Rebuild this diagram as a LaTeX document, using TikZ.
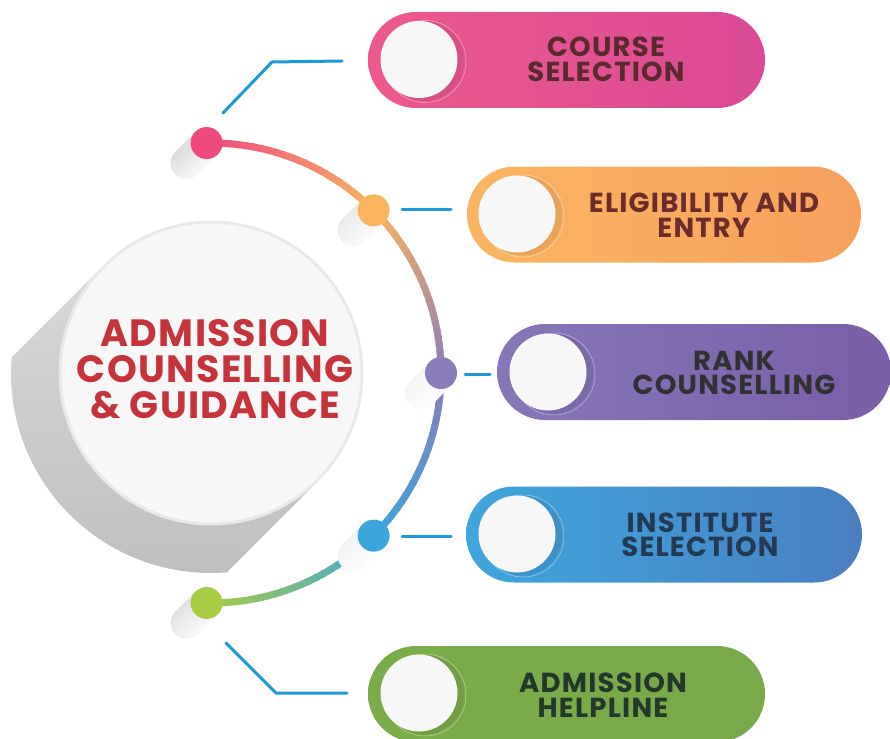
\documentclass[tikz,border=0pt]{standalone}
\usepackage{fontspec}
\setmainfont{Poppins}
\usetikzlibrary{shapes.misc}
\definecolor{cpinkL}{HTML}{EC5A8D}\definecolor{cpinkR}{HTML}{DA4995}
\definecolor{corL}{HTML}{FBB562}\definecolor{corR}{HTML}{F7A05E}
\definecolor{cpuL}{HTML}{8677B8}\definecolor{cpuR}{HTML}{7A5EA6}
\definecolor{cblL}{HTML}{3FA6DD}\definecolor{cblR}{HTML}{4A7FC0}
\definecolor{cgrL}{HTML}{7AAC4A}\definecolor{cgrR}{HTML}{78A94A}
\definecolor{dpink}{HTML}{EE4A7E}\definecolor{dorange}{HTML}{FBB45E}
\definecolor{dpurple}{HTML}{8A7DB9}\definecolor{dblue}{HTML}{3AA6DD}
\definecolor{dgreen}{HTML}{A8CC44}
\definecolor{tpink}{HTML}{5B2A2F}\definecolor{tor}{HTML}{6B2C2C}
\definecolor{tpu}{HTML}{333033}\definecolor{tbl}{HTML}{233A52}
\definecolor{tgr}{HTML}{21382A}
\definecolor{hubred}{HTML}{C7333A}
\definecolor{lineblue}{HTML}{1A9AD6}
\definecolor{knobw}{HTML}{F8F7F8}
\definecolor{hubrim}{HTML}{E8E8EB}
\tikzset{
  hub/.style={circle, minimum size=302pt, inner sep=0pt, fill=knobw, draw=hubrim, line width=3pt},
  hubtext/.style={font=\bfseries\fontsize{38}{36}\selectfont\addfontfeature{LetterSpace=3.5}, text=hubred, align=center, inner sep=0pt},
  dot/.style={circle, minimum size=32pt, inner sep=0pt},
  conn/.style={draw=lineblue, line width=3pt, line cap=round, line join=round},
  pill/.style={rounded rectangle, minimum height=96pt, inner sep=0pt},
  knob/.style={circle, minimum size=77pt, inner sep=0pt, fill=knobw},
  lbl/.style={font=\bfseries\fontsize{27.5}{24.5}\selectfont\addfontfeature{LetterSpace=4.5}, align=center, inner sep=0pt},
}
\begin{document}
\begin{tikzpicture}[x=1pt,y=-1pt]
\useasboundingbox (0,0) rectangle (890,738);
% long shadow of the hub
\begin{scope}
  \clip (211,373) circle[radius=200pt];
  \shade[top color=black!15, bottom color=black!32] (103.5,265.5) -- (318.5,480.5) -- (18.5,780.5) -- (-196.5,565.5) -- cycle;
\end{scope}
\node[hub] (hub) at (211,373) {};
\node[hubtext] (hubtxt) at (215,369) {ADMISSION\\COUNSELLING\\\& GUIDANCE};
% gradient arc
\foreach \s/\e/\ca/\cb in {-91.2/-45/dpink/dorange, -45/0/dorange/dpurple, 0/45/dpurple/dblue, 45/91.2/dblue/dgreen}{
  \foreach \i in {0,...,23}{
    \pgfmathsetmacro\aa{\s+(\e-\s)*\i/24}
    \pgfmathsetmacro\bb{\s+(\e-\s)*(\i+1.4)/24}
    \pgfmathtruncatemacro\p{100-100*(\i+0.5)/24}
    \draw[line width=7pt, draw=\ca!\p!\cb] ([shift={(\aa:230)}]hub.center) arc[start angle=\aa, end angle=\bb, radius=230];
  }
}
% dot shadows and dots
\foreach \ang/\nm/\sh in {-91.1/d1/16, -45/d2/10, 0/d3/5, 45/d4/6, 91.1/d5/14}{
  \coordinate (\nm c) at ([shift={(\ang:230)}]hub.center);
  \shade[left color=black!\sh, right color=white, shading angle=45]
    ([shift={(11.3,11.3)}]\nm c) -- ([shift={(-11.3,-11.3)}]\nm c) -- ([shift={(-31.3,8.7)}]\nm c)
    arc[start angle=225, end angle=45, radius=16] -- cycle;
}
\foreach \ang/\col/\nm in {-91.1/dpink/d1, -45/dorange/d2, 0/dpurple/d3, 45/dblue/d4, 91.1/dgreen/d5}{
  \node[dot, fill=\col] (\nm) at ([shift={(\ang:230)}]hub.center) {};
}
% pills
\node[pill, minimum width=397pt, left color=cpinkL, right color=cpinkR] (p1) at (566.5,60) {};
\node[pill, minimum width=394pt, left color=corL, right color=corR] (p2) at (664,214.5) {};
\node[pill, minimum width=394pt, left color=cpuL, right color=cpuR] (p3) at (694,372) {};
\node[pill, minimum width=396pt, left color=cblL, right color=cblR] (p4) at (664,534.5) {};
\node[pill, minimum width=397pt, left color=cgrL, right color=cgrR] (p5) at (566.5,694) {};
% knobs
\foreach \x/\y/\nm in {419/59.5/k1, 517/214/k2, 548/372/k3, 517/534/k4, 419/693/k5}{
  \fill[black, opacity=0.07] (\x+5,\y+1.5) circle[radius=40pt];
  \draw[white, opacity=0.5, line width=0.5pt] (\x+6,\y+2) circle[radius=41pt];
  \node[knob] (\nm) at (\x,\y) {};
}
% labels
\node[lbl, text=tpink] (t1) at (606,59.5) {COURSE\\SELECTION};
\node[lbl, text=tor] (t2) at (704,215) {ELIGIBILITY AND\\ENTRY};
\node[lbl, text=tpu] (t3) at (734,373) {RANK\\COUNSELLING};
\node[lbl, text=tbl] (t4) at (700,535) {INSTITUTE\\SELECTION};
\node[lbl, text=tgr] (t5) at (603,695) {ADMISSION\\HELPLINE};
% connectors
\coordinate (c1a) at (223,113); \coordinate (c1b) at (272,62); \coordinate (c1c) at (342,61);
\coordinate (c2a) at (402,209); \coordinate (c2b) at (451,209);
\coordinate (c3a) at (465,374); \coordinate (c3b) at (490,374);
\coordinate (c4a) at (402,536); \coordinate (c4b) at (451,536);
\coordinate (c5a) at (226,643); \coordinate (c5b) at (276,693); \coordinate (c5c) at (347,693);
\draw[conn] (c1a) -- (c1b) -- (c1c);
\draw[conn] (c2a) -- (c2b);
\draw[conn] (c3a) -- (c3b);
\draw[conn] (c4a) -- (c4b);
\draw[conn] (c5a) -- (c5b) -- (c5c);
\end{tikzpicture}
\end{document}
